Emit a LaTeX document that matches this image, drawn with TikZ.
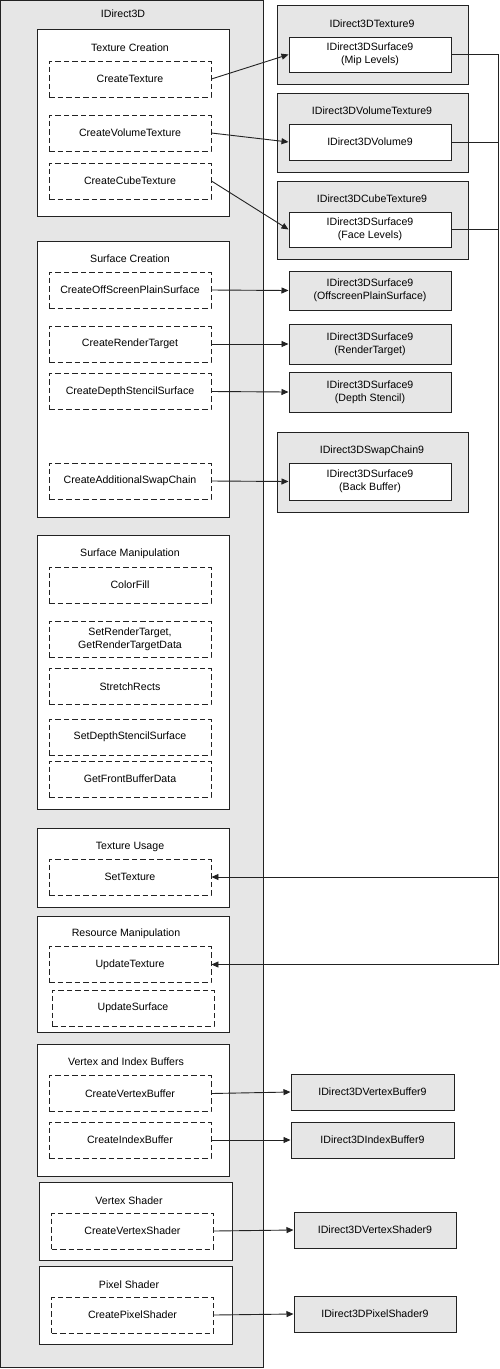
\documentclass[tikz,border=0pt]{standalone}
\usepackage{fontspec}
\setmainfont{Liberation Sans}
\usetikzlibrary{arrows.meta,calc}
\definecolor{boxgray}{HTML}{E6E6E6}
\definecolor{edge}{HTML}{222222}
\begin{document}
\begin{tikzpicture}[x=1pt,y=-1pt,
  every node/.style={font=\fontsize{10.6}{12.6}\selectfont, inner sep=0pt, align=center},
  outerbox/.style={draw=edge, line width=1pt, fill=boxgray},
  groupbox/.style={draw=edge, line width=1pt, fill=white},
  fnbox/.style={draw=edge, line width=0.9pt, dash pattern=on 5.5pt off 3pt, fill=white, minimum width=162pt, minimum height=36pt},
  ifbox/.style={draw=edge, line width=1pt, fill=boxgray},
  subbox/.style={draw=edge, line width=1pt, fill=white},
  lbl/.style={},
  arr/.style={draw=edge, line width=0.9pt, -{Triangle[length=7pt,width=6pt]}},
  ln/.style={draw=edge, line width=0.9pt}]
\useasboundingbox (0,0) rectangle (499,1369);
\fill[white] (0,0) rectangle (499,1369);

% outer IDirect3D
\node[outerbox, minimum width=263pt, minimum height=1367pt] (d3d) at (132,684) {};
\node[lbl] (d3dl) at (123,14) {IDirect3D};

% Texture Creation
\node[groupbox, minimum width=192pt, minimum height=187pt] (gtc) at (133,122.5) {};
\node (gtcl) at (130,48) {Texture Creation};
\node[fnbox] (ctex) at (130,79) {CreateTexture};
\node[fnbox] (cvol) at (130,133) {CreateVolumeTexture};
\node[fnbox] (ccube) at (130,181) {CreateCubeTexture};

% Surface Creation
\node[groupbox, minimum width=192pt, minimum height=276pt] (gsc) at (133,379) {};
\node (gscl) at (130,259) {Surface Creation};
\node[fnbox] (coff) at (130,290) {CreateOffScreenPlainSurface};
\node[fnbox] (crt) at (130,344) {CreateRenderTarget};
\node[fnbox] (cds) at (130,391.5) {CreateDepthStencilSurface};
\node[fnbox] (csw) at (130,481) {CreateAdditionalSwapChain};

% Surface Manipulation
\node[groupbox, minimum width=192pt, minimum height=274pt] (gsm) at (133,672) {};
\node (gsml) at (130,554) {Surface Manipulation};
\node[fnbox] (cfill) at (130,585) {ColorFill};
\node[fnbox] (srt) at (130,639) {SetRenderTarget,\\GetRenderTargetData};
\node[fnbox] (str) at (130,686.5) {StretchRects};
\node[fnbox] (sds) at (130,737) {SetDepthStencilSurface};
\node[fnbox] (gfb) at (130,779) {GetFrontBufferData};

% Texture Usage
\node[groupbox, minimum width=192pt, minimum height=79pt] (gtu) at (133,867.5) {};
\node (gtul) at (130,847) {Texture Usage};
\node[fnbox] (stex) at (130,877) {SetTexture};

% Resource Manipulation
\node[groupbox, minimum width=192pt, minimum height=116pt] (grm) at (133,974) {};
\node (grml) at (126,934) {Resource Manipulation};
\node[fnbox] (utex) at (130,964.5) {UpdateTexture};
\node[fnbox] (usurf) at (133,1008) {UpdateSurface};

% Vertex and Index Buffers
\node[groupbox, minimum width=192pt, minimum height=132pt] (gvb) at (133,1110) {};
\node (gvbl) at (126,1062) {Vertex and Index Buffers};
\node[fnbox] (cvb) at (130,1093.5) {CreateVertexBuffer};
\node[fnbox] (cib) at (130,1140) {CreateIndexBuffer};

% Vertex Shader
\node[groupbox, minimum width=193pt, minimum height=78pt] (gvs) at (135.5,1221) {};
\node (gvsl) at (129,1201) {Vertex Shader};
\node[fnbox] (cvs) at (132.5,1231) {CreateVertexShader};

% Pixel Shader
\node[groupbox, minimum width=193pt, minimum height=78pt] (gps) at (135.5,1305) {};
\node (gpsl) at (129,1285) {Pixel Shader};
\node[fnbox] (cps) at (132.5,1315) {CreatePixelShader};

% Right side interfaces
\node[ifbox, minimum width=191pt, minimum height=79pt] (itex) at (372.5,44.5) {};
\node (itexl) at (372,24) {IDirect3DTexture9};
\node[subbox, minimum width=162pt, minimum height=35pt] (mip) at (370,54.5) {IDirect3DSurface9\\(Mip Levels)};

\node[ifbox, minimum width=191pt, minimum height=79pt] (ivt) at (372.5,132.5) {};
\node (ivtl) at (372,111) {IDirect3DVolumeTexture9};
\node[subbox, minimum width=162pt, minimum height=36pt] (vol) at (370,142) {IDirect3DVolume9};

\node[ifbox, minimum width=191pt, minimum height=78pt] (ict) at (372.5,220) {};
\node (ictl) at (372,199) {IDirect3DCubeTexture9};
\node[subbox, minimum width=162pt, minimum height=35pt] (face) at (370,229.5) {IDirect3DSurface9\\(Face Levels)};

\node[ifbox, minimum width=162pt, minimum height=39pt] (ioff) at (370,290.5) {IDirect3DSurface9\\(OffscreenPlainSurface)};
\node[ifbox, minimum width=162pt, minimum height=40pt] (irt) at (370,344) {IDirect3DSurface9\\(RenderTarget)};
\node[ifbox, minimum width=162pt, minimum height=40pt] (ids) at (370,392) {IDirect3DSurface9\\(Depth Stencil)};

\node[ifbox, minimum width=191pt, minimum height=80pt] (isw) at (372.5,472) {};
\node (iswl) at (372,451) {IDirect3DSwapChain9};
\node[subbox, minimum width=162pt, minimum height=37pt] (bb) at (370,481.5) {IDirect3DSurface9\\(Back Buffer)};

\node[ifbox, minimum width=163pt, minimum height=36pt] (ivb) at (372.5,1092) {IDirect3DVertexBuffer9};
\node[ifbox, minimum width=163pt, minimum height=36pt] (iib) at (372.5,1140) {IDirect3DIndexBuffer9};
\node[ifbox, minimum width=162pt, minimum height=36pt] (ivs) at (375,1230) {IDirect3DVertexShader9};
\node[ifbox, minimum width=162pt, minimum height=36pt] (ips) at (375,1314) {IDirect3DPixelShader9};

% Connectors
\draw[arr] (ctex.east) -- (mip.west);
\draw[arr] (cvol.east) -- (vol.west);
\draw[arr] (ccube.east) -- (face.west);
\draw[arr] (coff.east) -- (ioff.west);
\draw[arr] (crt.east) -- (irt.west);
\draw[arr] (cds.east) -- (ids.west);
\draw[arr] (csw.east) -- (bb.west);
\draw[arr] (cvb.east) -- (ivb.west);
\draw[arr] (cib.east) -- (iib.west);
\draw[arr] (cvs.east) -- (ivs.west);
\draw[arr] (cps.east) -- (ips.west);

\coordinate (rbot) at (498,964.5);
\draw[arr] (mip.east) -| (rbot) -- (utex.east);
\draw[ln] (vol.east) -- (vol.east -| rbot);
\draw[ln] (face.east) -- (face.east -| rbot);
\draw[arr] (rbot |- stex.east) -- (stex.east);
\end{tikzpicture}
\end{document}
